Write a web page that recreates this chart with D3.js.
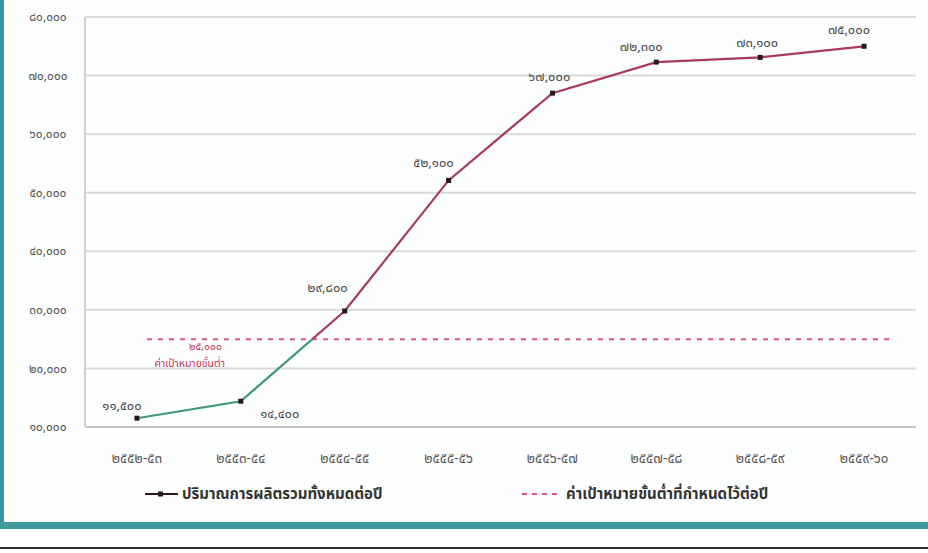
<!DOCTYPE html>
<html><head><meta charset="utf-8">
<script src="https://cdn.jsdelivr.net/npm/d3@7"></script>
<style>
html,body{margin:0;padding:0;background:#fff;}
svg{display:block;font-family:"Noto Sans Thai","Noto Sans","DejaVu Sans",sans-serif;}
</style></head>
<body><svg id="c" width="928" height="553"></svg>
<script>
const categories = ["๒๕๕๒-๕๓","๒๕๕๓-๕๔","๒๕๕๔-๕๕","๒๕๕๕-๕๖","๒๕๕๖-๕๗","๒๕๕๗-๕๘","๒๕๕๘-๕๙","๒๕๕๙-๖๐"];
const totalValues = [11500, 14400, 29800, 52100, 67000, 72300, 73100, 75000];
const thresholdValue = 25000;
const yTicks = [10000, 20000, 30000, 40000, 50000, 60000, 70000, 80000];
const seriesNames = ["ปริมาณการผลิตรวมทั้งหมดต่อปี", "ค่าเป้าหมายขั้นต่ำที่กำหนดไว้ต่อปี"];
const thresholdNote = ["๒๕,๐๐๐", "ค่าเป้าหมายขั้นต่ำ"];

const thaiDigits = s => String(s).replace(/[0-9]/g, d => "๐๑๒๓๔๕๖๗๘๙"[+d]);
const fmt = v => thaiDigits(d3.format(",")(v));

const svg = d3.select("#c");
const W = 928;
// frame
svg.append("rect").attr("x",0).attr("y",0).attr("width",W).attr("height",528).attr("fill","#fdfefe");
svg.append("rect").attr("x",0).attr("y",0).attr("width",4).attr("height",528).attr("fill","#3d8ea6");
svg.append("rect").attr("x",0).attr("y",522).attr("width",W).attr("height",7).attr("fill","#3f9a9e");
svg.append("rect").attr("x",0).attr("y",547).attr("width",W).attr("height",2).attr("fill","#333");

const x = d3.scalePoint().domain(categories).range([85, 916]).padding(0.5);
const y = d3.scaleLinear().domain([10000, 80000]).range([427, 17]);

// gridlines
svg.append("g").selectAll("line").data(yTicks).join("line")
  .attr("x1",85).attr("x2",916).attr("y1",d=>y(d)).attr("y2",d=>y(d))
  .attr("stroke",d=>d===10000?"#c8c8c8":"#d9d9d9").attr("stroke-width",2);
svg.append("line").attr("x1",85).attr("x2",85).attr("y1",y(80000)).attr("y2",y(10000))
  .attr("stroke","#d0d0d0").attr("stroke-width",2);

// y axis labels
svg.append("g").selectAll("text").data(yTicks).join("text")
  .attr("x",48).attr("y",d=>y(d)).attr("dy","0.35em").attr("text-anchor","middle")
  .attr("font-size",12).attr("fill","#555").text(d=>fmt(d));

// x axis labels
svg.append("g").selectAll("text").data(categories).join("text")
  .attr("x",d=>x(d)).attr("y",463).attr("text-anchor","middle")
  .attr("font-size",13.5).attr("fill","#555").text(d=>d);

// threshold dashed line
svg.append("line").attr("x1",x(categories[0])+10).attr("x2",x(categories[7])+25)
  .attr("y1",y(thresholdValue)).attr("y2",y(thresholdValue))
  .attr("stroke","#d9577e").attr("stroke-width",2).attr("stroke-dasharray","5,6");
svg.append("text").attr("x",222).attr("y",y(thresholdValue)+7).attr("dy","0.35em").attr("text-anchor","end")
  .attr("font-size",10.5).attr("fill","#c0335c").text(thresholdNote[0]);
svg.append("text").attr("x",225).attr("y",y(thresholdValue)+24).attr("dy","0.35em").attr("text-anchor","end")
  .attr("font-size",10.5).attr("fill","#c0335c").text(thresholdNote[1]);

// main line with color split at threshold
const defs = svg.append("defs");
defs.append("clipPath").attr("id","below").append("rect")
  .attr("x",0).attr("y",y(thresholdValue)).attr("width",W).attr("height",200);
defs.append("clipPath").attr("id","above").append("rect")
  .attr("x",0).attr("y",0).attr("width",W).attr("height",y(thresholdValue));
const line = d3.line().x((d,i)=>x(categories[i])).y(d=>y(d));
svg.append("path").datum(totalValues).attr("d",line).attr("fill","none")
  .attr("stroke","#3e9a74").attr("stroke-width",2.2).attr("clip-path","url(#below)");
svg.append("path").datum(totalValues).attr("d",line).attr("fill","none")
  .attr("stroke","#a83a60").attr("stroke-width",2.2).attr("clip-path","url(#above)");

// markers
svg.append("g").selectAll("rect").data(totalValues).join("rect")
  .attr("x",(d,i)=>x(categories[i])-2.5).attr("y",d=>y(d)-2.5)
  .attr("width",5).attr("height",5).attr("fill","#2a1620");

// data labels
const offs = [[-15,-13],[39,12],[-17,-24],[-15,-18],[-3,-17],[-15,-16],[-3,-15],[-15,-17]];
svg.append("g").selectAll("text").data(totalValues).join("text")
  .attr("x",(d,i)=>x(categories[i])+offs[i][0]).attr("y",(d,i)=>y(d)+offs[i][1])
  .attr("dy","0.35em").attr("text-anchor","middle").attr("font-size",13).attr("fill","#4a4a4a")
  .text(d=>fmt(d));

// legend
const lg = svg.append("g");
lg.append("line").attr("x1",145).attr("x2",178).attr("y1",494).attr("y2",494).attr("stroke","#2a1620").attr("stroke-width",2);
lg.append("rect").attr("x",158).attr("y",491.5).attr("width",5).attr("height",5).attr("fill","#2a1620");
lg.append("text").attr("x",182).attr("y",494).attr("dy","0.35em").attr("font-size",15).attr("font-weight","bold").attr("fill","#333").text(seriesNames[0]);
lg.append("line").attr("x1",522).attr("x2",562).attr("y1",494).attr("y2",494).attr("stroke","#d9577e").attr("stroke-width",2).attr("stroke-dasharray","5,5");
lg.append("text").attr("x",566).attr("y",494).attr("dy","0.35em").attr("font-size",15).attr("font-weight","bold").attr("fill","#333").text(seriesNames[1]);
</script></body></html>
